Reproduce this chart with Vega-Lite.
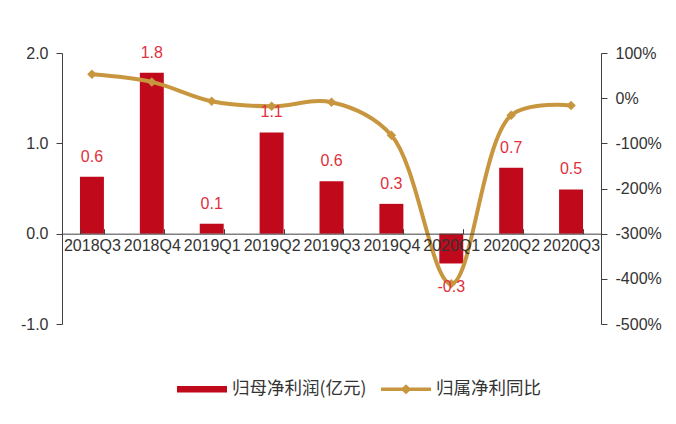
{
  "$schema": "https://vega.github.io/schema/vega-lite/v6.json",
  "width": 539,
  "height": 271,
  "autosize": {"type": "none"},
  "padding": {"left": 62, "top": 53, "right": 75, "bottom": 100},
  "background": "white",
  "config": {
    "view": {"stroke": null},
    "font": "Liberation Sans",
    "axis": {"labelFont": "Liberation Sans", "labelFontSize": 16, "labelColor": "#333333", "domainColor": "#404040", "tickColor": "#404040", "grid": false, "title": null}
  },
  "data": {
    "values": [
      {"q": "2018Q3", "profit": 0.63, "label": "0.6", "yoy": 53, "series": "归母净利润(亿元)"},
      {"q": "2018Q4", "profit": 1.78, "label": "1.8", "yoy": 36, "series": "归母净利润(亿元)"},
      {"q": "2019Q1", "profit": 0.11, "label": "0.1", "yoy": -7, "series": "归母净利润(亿元)"},
      {"q": "2019Q2", "profit": 1.12, "label": "1.1", "yoy": -18, "series": "归母净利润(亿元)"},
      {"q": "2019Q3", "profit": 0.58, "label": "0.6", "yoy": -9, "series": "归母净利润(亿元)"},
      {"q": "2019Q4", "profit": 0.33, "label": "0.3", "yoy": -82, "series": "归母净利润(亿元)"},
      {"q": "2020Q1", "profit": -0.33, "label": "-0.3", "yoy": -411, "series": "归母净利润(亿元)"},
      {"q": "2020Q2", "profit": 0.73, "label": "0.7", "yoy": -38, "series": "归母净利润(亿元)"},
      {"q": "2020Q3", "profit": 0.49, "label": "0.5", "yoy": -16, "series": "归母净利润(亿元)"}
    ]
  },
  "encoding": {
    "x": {"field": "q", "type": "nominal", "sort": null,
      "scale": {"paddingInner": 0.6, "paddingOuter": 0.3},
      "axis": {"labelAngle": 0, "offset": -90.33, "tickBand": "extent", "tickSize": -5, "labelPadding": 9, "zindex": 1, "labelOverlap": false}}
  },
  "layer": [
    {
      "mark": {"type": "bar"},
      "encoding": {
        "y": {"field": "profit", "type": "quantitative",
          "scale": {"domain": [-1, 2], "nice": false, "zero": false},
          "axis": {"orient": "left", "values": [-1, 0, 1, 2], "labelExpr": "replace(format(datum.value, '.1f'), '\u2212', '-')", "tickSize": 6, "labelPadding": 8}},
        "color": {"field": "series", "type": "nominal",
          "scale": {"domain": ["归母净利润(亿元)", "归属净利同比"], "range": ["#c00a1c", "#c8963e"]},
          "legend": {
            "orient": "none", "legendX": 115, "legendY": 311, "direction": "horizontal",
            "title": null, "labelFont": "Noto Sans CJK SC", "labelFontSize": 17.5, "labelColor": "#333333",
            "symbolType": "M-1,-0.13H1V0.13H-1Z", "symbolSize": 2500, "labelOffset": 5, "columnPadding": 14,
            "symbolStrokeWidth": 0,
            "encode": {"symbols": {"update": {
              "shape": {"signal": "datum.label == '归属净利同比' ? 'M-1,-0.07H-0.14L0,-0.2L0.14,-0.07H1V0.07H0.14L0,0.2L-0.14,0.07H-1Z' : 'M-1,-0.13H1V0.13H-1Z'"},
              "strokeWidth": {"value": 0}
            }}}
          }}
      }
    },
    {
      "mark": {"type": "line", "interpolate": "catmull-rom", "color": "#c8963e", "strokeWidth": 4},
      "encoding": {
        "y": {"field": "yoy", "type": "quantitative",
          "scale": {"domain": [-500, 100], "nice": false, "zero": false},
          "axis": {"orient": "right", "values": [-500, -400, -300, -200, -100, 0, 100], "labelExpr": "datum.value + '%'", "tickSize": 6, "labelPadding": 8}}
      }
    },
    {
      "mark": {"type": "point", "shape": "diamond", "filled": true, "color": "#c8963e", "size": 90, "opacity": 1},
      "encoding": {
        "y": {"field": "yoy", "type": "quantitative", "scale": {"domain": [-500, 100], "nice": false, "zero": false}, "axis": null}
      }
    },
    {
      "transform": [{"filter": "datum.profit >= 0"}],
      "mark": {"type": "text", "baseline": "alphabetic", "dy": -15, "fontSize": 16, "color": "#e0303e", "font": "Liberation Sans"},
      "encoding": {
        "y": {"field": "profit", "type": "quantitative", "scale": {"domain": [-1, 2], "nice": false, "zero": false}, "axis": null},
        "text": {"field": "label"}
      }
    },
    {
      "transform": [{"filter": "datum.profit < 0"}],
      "mark": {"type": "text", "baseline": "top", "dy": 16, "fontSize": 16, "color": "#e0303e", "font": "Liberation Sans"},
      "encoding": {
        "y": {"field": "profit", "type": "quantitative", "scale": {"domain": [-1, 2], "nice": false, "zero": false}, "axis": null},
        "text": {"field": "label"}
      }
    }
  ],
  "resolve": {"scale": {"y": "independent"}}
}
